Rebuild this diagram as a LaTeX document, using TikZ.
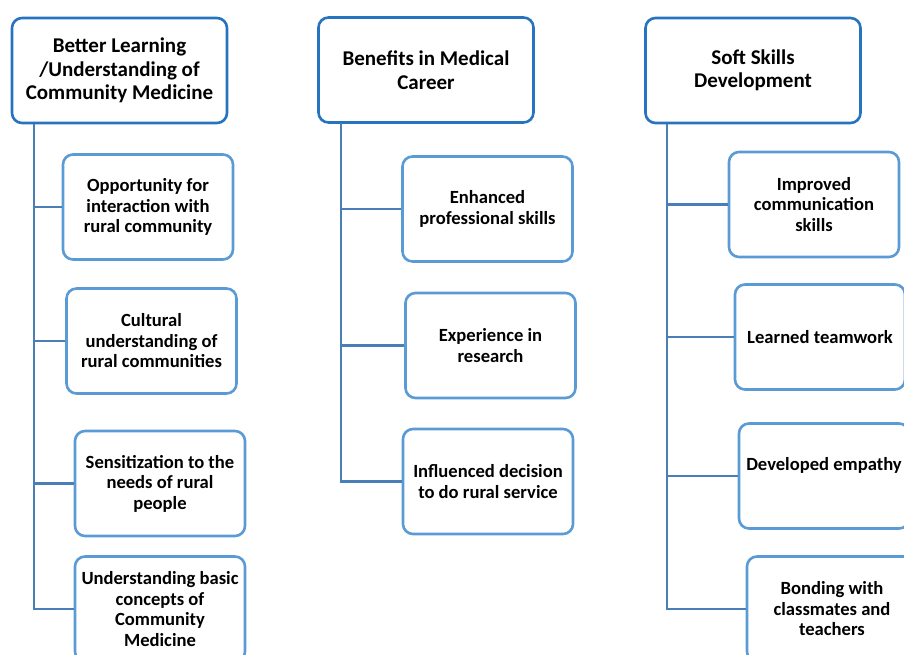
\documentclass[tikz,border=0pt]{standalone}
\usepackage{fontspec}
\setmainfont{Carlito}
\usepackage{tikz}
\usetikzlibrary{positioning}

\definecolor{headblue}{HTML}{2673C0}
\definecolor{itemblue}{HTML}{5B9BD5}
\definecolor{lineblue}{HTML}{4A7EB8}

\begin{document}
\begin{tikzpicture}[x=1pt,y=-1pt,
	head/.style={draw=headblue, line width=2.6pt, rounded corners=10pt, minimum width=215pt, minimum height=105pt, align=center, font=\fontsize{21}{23.5}\selectfont\bfseries},
	item/.style={draw=itemblue, line width=2.6pt, rounded corners=10pt, minimum width=170pt, minimum height=105pt, align=center, font=\fontsize{18.6}{20.5}\selectfont\bfseries},
	trunk/.style={draw=lineblue, line width=2.9pt}]
			\useasboundingbox (0,0) rectangle (904,655);
			\clip (0,0) rectangle (904,655);
			
			% headers
			\node [head] (h1) at (119.5,70.5) {Better Learning\\/Understanding of\\Community Medicine};
			\node [head] (h2) at (426,70) {Benefits in Medical\\Career};
			\node [head] (h3) at (753,70.5) {Soft Skills\\Development};
			
			% first column
			\node [item] (c11) at (148,207) {Opportunity for\\interaction with\\rural community};
			\node [item] (c12) at (151.5,341) {Cultural\\understanding of\\rural communities};
			\node [item] (c13) at (160,483.5) {Sensitization to the\\needs of rural\\people};
			\node [item] (c14) at (160,609) {Understanding basic\\concepts of\\Community\\Medicine};
			
			% second column
			\node [item] (c21) at (487.5,209) {Enhanced\\professional skills};
			\node [item] (c22) at (490.5,345.5) {Experience in\\research};
			\node [item] (c23) at (488,481.5) {Influenced decision\\to do rural service};
			
			% third column
			\node [item] (c31) at (814,204.5) {Improved\\communication\\skills};
			\node [item] (c32) at (820,337) {Learned teamwork};
			\node [item, text depth=24pt] (c33) at (824,476) {Developed empathy};
			\node [item] (c34) at (832,609) {Bonding with\\classmates and\\teachers};
			
			\coordinate (t1) at (34,124);
			\coordinate (t2) at (341,123);
			\coordinate (t3) at (667,124);
			
			\draw [trunk] (t1) |- (c14.west);
			\foreach \c in {c11,c12,c13}
				\draw [trunk] (t1 |- \c.west) -- (\c.west);
			
			\draw [trunk] (t2) |- (c23.west);
			\foreach \c in {c21,c22}
				\draw [trunk] (t2 |- \c.west) -- (\c.west);
			
			\draw [trunk] (t3) |- (c34.west);
			\foreach \c in {c31,c32,c33}
				\draw [trunk] (t3 |- \c.west) -- (\c.west);
		\end{tikzpicture}
\end{document}
